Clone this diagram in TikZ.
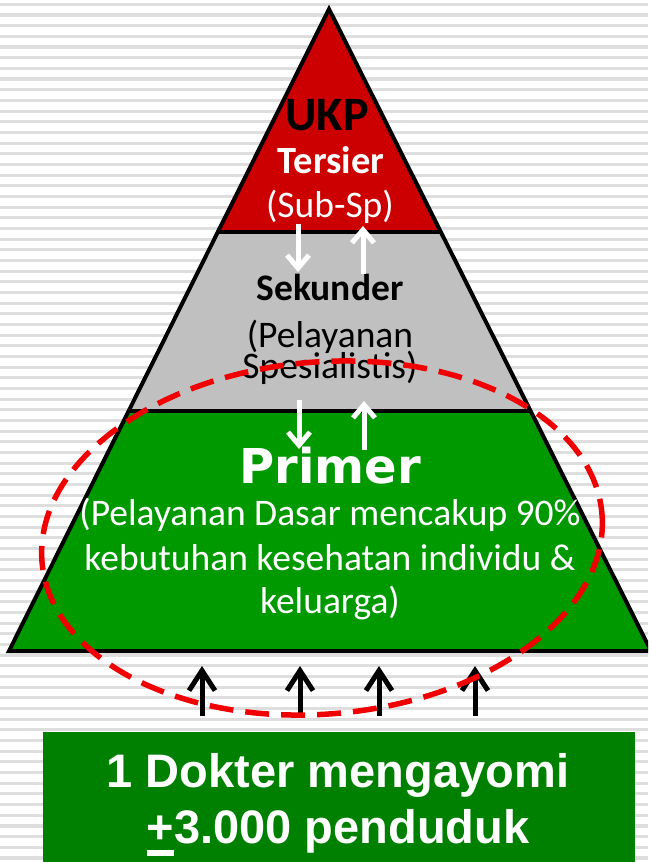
\documentclass[tikz,border=0pt]{standalone}
\usepackage{fontspec}
\setmainfont{Carlito}
\newfontfamily\verdfont{DejaVu Sans}
\newfontfamily\arialfont{Liberation Sans}
\usetikzlibrary{arrows.meta}
\definecolor{tred}{RGB}{204,0,0}
\definecolor{tgray}{RGB}{192,192,192}
\definecolor{tgreen}{RGB}{0,153,0}
\definecolor{bgreen}{RGB}{0,128,0}
\definecolor{stripecol}{RGB}{222,222,222}
\definecolor{dashred}{RGB}{240,0,0}
\begin{document}
\begin{tikzpicture}[x=1pt,y=-1pt,
  txt/.style={anchor=base,inner sep=0pt,outer sep=0pt},
  reg/.style={txt,font=\fontsize{37.5}{44}\selectfont},
  bld/.style={txt,font=\bfseries\fontsize{37.5}{44}\selectfont},
  warrow/.style={draw=white,line width=5pt,-{Straight Barb[length=13pt,width=22pt]}},
  barrow/.style={draw=black,line width=5pt,-{Straight Barb[length=20pt,width=26pt]}},
  tieroutline/.style={draw=black,line width=4pt,line join=miter},
  ellipsedash/.style={draw=dashred,line width=5.5pt,dash pattern=on 24pt off 12pt}]
\useasboundingbox (0,0) rectangle (648,862);
\begin{scope}
\clip (0,0) rectangle (648,862);
\fill[white] (0,0) rectangle (648,862);
\foreach \k in {0,...,80} \fill[stripecol] (0,{2.8+10.67*\k}) rectangle (648,{5.9+10.67*\k});
% pyramid
\coordinate (A) at (329,9);
\coordinate (L) at (9,651);
\coordinate (R) at (651,651);
\coordinate (t1L) at (217.8,232);
\coordinate (t1R) at (440.8,232);
\coordinate (t2L) at (128.6,411);
\coordinate (t2R) at (530,411);
\fill[tred] (A) -- (t1L) -- (t1R) -- cycle;
\fill[tgray] (t1L) -- (t2L) -- (t2R) -- (t1R) -- cycle;
\fill[tgreen] (t2L) -- (L) -- (R) -- (t2R) -- cycle;
\draw[tieroutline] (A) -- (L) -- (R) -- cycle;
\draw[tieroutline] (t1L) -- (t1R);
\draw[tieroutline] (t2L) -- (t2R);
% texts
\node[txt,font=\bfseries\fontsize{48}{56}\selectfont] (ukp) at (327,130) {UKP};
\node[txt,text=white,font=\bfseries\fontsize{38.5}{44}\selectfont] (ters) at (331,173) {Tersier};
\node[reg,text=white] (subsp) at (330,217) {(Sub-Sp)};
\node[bld] (sek) at (330,300) {Sekunder};
\node[reg] (pel1) at (330,347) {(Pelayanan};
\node[reg] (pel2) at (330,378) {Spesialistis)};
\node[txt,text=white,font=\verdfont\bfseries\fontsize{48}{58}\selectfont] (prim) at (330,483) {Primer};
\node[reg,text=white] (p1) at (330,525) {(Pelayanan Dasar mencakup 90\%};
\node[reg,text=white] (p2) at (330,570) {kebutuhan kesehatan individu \&};
\node[reg,text=white] (p3) at (330,613) {keluarga)};
% white arrows
\coordinate (w1s) at (298,224); \coordinate (w1e) at (298,272);
\coordinate (w2s) at (363,274); \coordinate (w2e) at (363,226);
\coordinate (w3s) at (299,400); \coordinate (w3e) at (299,449);
\coordinate (w4s) at (364,450); \coordinate (w4e) at (364,401);
\draw[warrow] (w1s) -- (w1e);
\draw[warrow] (w2s) -- (w2e);
\draw[warrow] (w3s) -- (w3e);
\draw[warrow] (w4s) -- (w4e);
% black arrows
\foreach \xx/\nm in {202/a,300/b,379/c,475/d}{
  \coordinate (b\nm s) at (\xx,716);
  \coordinate (b\nm e) at (\xx,666);
  \draw[barrow] (b\nm s) -- (b\nm e);
}
% dashed ellipse
\draw[ellipsedash,shift={(322,538)},rotate=5] (0,0) ellipse [x radius=281, y radius=176];
% bottom box
\fill[bgreen] (43,732) rectangle (635,870);
\node[txt,text=white,font=\arialfont\bfseries\fontsize{47}{57}\selectfont] (doc1) at (338,787) {1 Dokter mengayomi};
\node[txt,text=white,font=\arialfont\bfseries\fontsize{47}{57}\selectfont] (doc2) at (338,843) {{\setbox0\hbox{+}\rlap{\rule[-13pt]{\wd0}{6pt}}+}3.000 penduduk};
\end{scope}
\end{tikzpicture}
\end{document}
